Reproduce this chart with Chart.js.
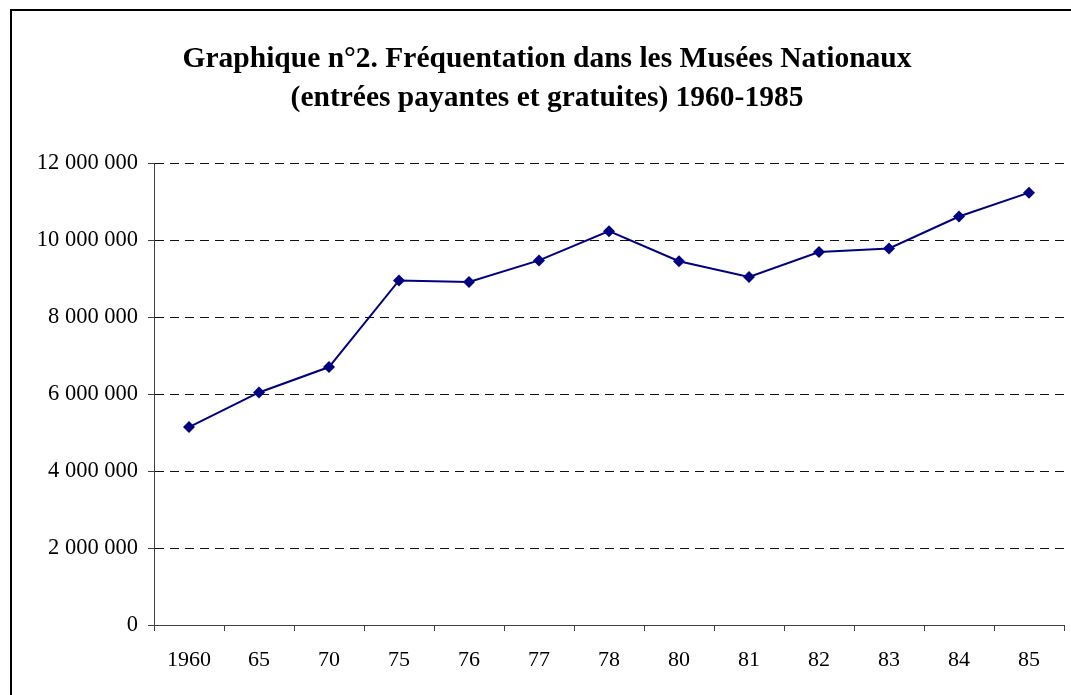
<!DOCTYPE html>
<html>
<head>
<meta charset="utf-8">
<script src="https://cdn.jsdelivr.net/npm/chart.js@4/dist/chart.umd.min.js"></script>
<style>
  html, body { margin: 0; padding: 0; background: #fff; }
  #wrap { position: relative; width: 1071px; height: 695px; overflow: hidden; }
  #frame { position: absolute; left: 10px; top: 9px; width: 1100px; height: 800px;
           border-left: 2px solid #000; border-top: 2px solid #000; box-sizing: border-box; }
  #title { position: absolute; left: 147px; width: 800px; top: 38px; text-align: center;
           font-family: 'Liberation Serif', 'Times New Roman', serif; font-weight: bold;
           font-size: 29.5px; line-height: 39px; color: #000; white-space: nowrap; }
  canvas { position: absolute; left: 0; top: 0; }
</style>
</head>
<body>
<div id="wrap">
  <div id="frame"></div>
  <canvas id="visitsChart" width="1071" height="695"></canvas>
  <div id="title"></div>
</div>
<script>
// Fréquentation des Musées Nationaux, 1960-1985
const titleLines = ['Graphique n°2. Fréquentation dans les Musées Nationaux',
                    '(entrées payantes et gratuites) 1960-1985'];
const years = ['1960', '65', '70', '75', '76', '77', '78', '80', '81', '82', '83', '84', '85'];
const visitors = [5140000, 6040000, 6700000, 8950000, 8910000, 9470000, 10230000,
                  9450000, 9040000, 9690000, 9780000, 10610000, 11230000];
const yTicks = [0, 2000000, 4000000, 6000000, 8000000, 10000000, 12000000];

const serif = "'Liberation Serif', 'Times New Roman', serif";

document.getElementById('title').innerHTML = titleLines.join('<br>');

function spaced(v) {
    return String(v).replace(/\B(?=(\d{3})+(?!\d))/g, ' ');
}

const ctx = document.getElementById('visitsChart').getContext('2d');
const visitsChart = new Chart(ctx, {
    type: 'line',
    data: {
        labels: years,
        datasets: [{
            data: visitors,
            borderColor: '#000080',
            backgroundColor: '#000080',
            borderWidth: 2,
            pointStyle: 'rectRot',
            pointRadius: 6,
            pointBackgroundColor: '#000080',
            pointBorderWidth: 0,
            tension: 0,
            fill: false
        }]
    },
    options: {
        responsive: false,
        animation: false,
        layout: { padding: { top: 163, right: 7, bottom: 0, left: 0 } },
        plugins: {
            legend: { display: false },
            tooltip: { enabled: false },
            title: { display: false }
        },
        scales: {
            x: {
                offset: true,
                grid: { offset: true, drawOnChartArea: false, drawTicks: true,
                        tickLength: 6, tickColor: '#404040' },
                border: { color: '#404040', width: 1 },
                ticks: { color: '#000', padding: 16, maxRotation: 0,
                         font: { family: serif, size: 22 } },
                afterFit: function (scale) { scale.height = 70; }
            },
            y: {
                min: 0,
                max: 12000000,
                afterBuildTicks: function (scale) {
                    scale.ticks = yTicks.map(v => ({ value: v }));
                },
                grid: { color: '#111', lineWidth: 1,
                        tickLength: 6, tickColor: '#404040', tickBorderDash: [] },
                border: { color: '#404040', width: 1, dash: [9, 6] },
                ticks: { color: '#000', padding: 10,
                         font: { family: serif, size: 22.5 },
                         callback: v => spaced(v) },
                afterFit: function (scale) { scale.width = 154; }
            }
        }
    }
});
</script>
</body>
</html>
